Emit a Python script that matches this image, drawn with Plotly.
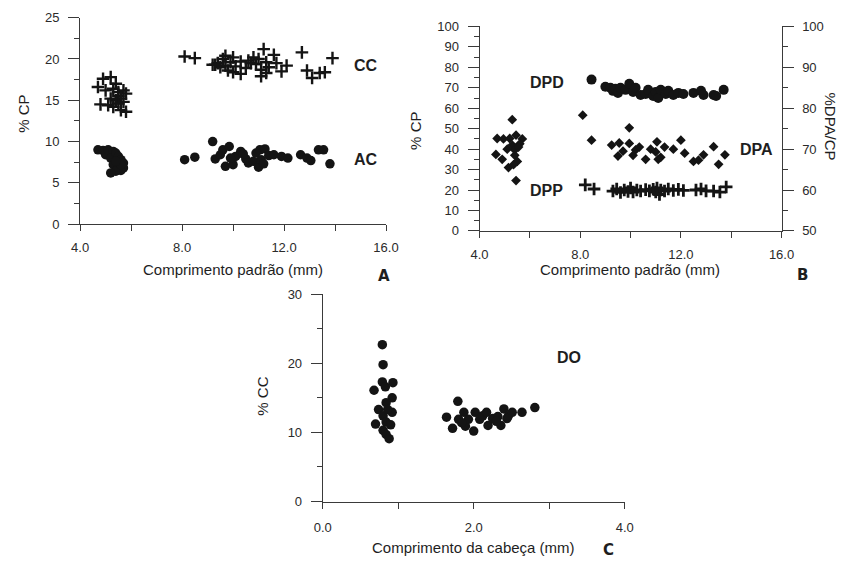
import plotly.graph_objects as go

W, H = 853, 566

# ---------------- Panel A: % CP vs Comprimento padrão ----------------
cc_x = [4.7, 4.9, 5.2, 5.4, 5.0, 5.3, 5.5, 5.7, 5.8, 5.6, 5.4, 4.8, 5.1, 5.3, 5.5, 5.6, 5.8, 5.5, 5.7, 5.2,
        8.1, 8.5, 9.2, 9.4, 9.6, 9.7, 9.9, 9.8, 10.1, 10.3, 10.3, 10.6, 10.8, 10.9, 11.0, 11.1, 11.2, 11.1,
        11.3, 11.4, 11.6, 11.7, 11.9, 12.1, 12.7, 12.9, 13.1, 13.4, 13.6, 13.9,
        9.5, 9.7, 10.0, 10.5, 10.7, 11.3, 9.3, 10.0]
cc_y = [16.6, 17.6, 17.8, 17.0, 16.2, 16.4, 16.0, 16.2, 15.8, 15.2, 15.0, 14.5, 14.4, 14.2, 14.6, 13.8, 13.6, 15.5, 14.8, 15.2,
        20.3, 20.1, 19.3, 19.5, 20.0, 20.4, 19.6, 18.6, 19.1, 18.2, 19.7, 19.8, 20.2, 19.4, 20.0, 18.7, 21.2, 17.9,
        19.6, 19.0, 20.5, 19.5, 18.5, 19.2, 20.8, 18.6, 17.7, 18.3, 18.4, 20.1,
        19.0, 19.2, 20.2, 18.9, 19.5, 18.3, 19.3, 18.4]

ac_x = [4.7, 4.9, 5.0, 5.1, 5.3, 5.2, 5.4, 5.5, 5.6, 5.7, 5.3, 5.5, 5.7, 5.6, 5.4, 5.2, 5.6, 5.4,
        8.1, 8.5, 9.2, 9.3, 9.5, 9.6, 9.85, 9.7, 10.0, 10.1, 10.3, 10.5, 10.6, 10.9, 10.8, 11.05, 11.0, 11.1,
        11.25, 11.4, 11.6, 11.9, 12.15, 12.65, 12.9, 13.05, 13.35, 13.55, 13.8, 9.9, 10.4, 11.2]
ac_y = [9.0, 8.9, 8.4, 9.0, 8.8, 8.0, 8.6, 8.2, 7.8, 7.4, 7.2, 7.0, 6.8, 6.5, 6.4, 6.2, 7.2, 7.6,
        7.8, 8.1, 10.0, 7.9, 8.4, 9.0, 9.4, 7.0, 7.2, 8.2, 8.8, 7.9, 7.4, 8.6, 7.6, 9.0, 6.9, 7.8,
        9.1, 8.3, 8.4, 8.2, 8.0, 8.4, 8.0, 7.7, 9.0, 9.0, 7.3, 8.0, 8.5, 7.3]

# ---------------- Panel B ----------------
dpd_x = [8.45, 9.0, 9.2, 9.3, 9.4, 9.5, 9.6, 9.8, 9.95, 10.1, 10.2, 10.4, 10.6, 10.7, 10.9, 11.0, 11.1,
         11.2, 11.4, 11.5, 11.7, 11.9, 12.1, 12.5, 12.8, 12.9, 13.3, 13.4, 13.7]
dpd_y = [74, 70.5, 70, 68.5, 69.5, 67.5, 70, 69, 72, 68, 70, 66.5, 67, 69, 66, 68, 65,
         69, 67, 68.5, 66.5, 67.5, 67, 67.5, 68.5, 66.5, 66.5, 66, 69]

# DPA plotted against the right axis (%DPA/CP)
dpa_x = [5.3, 4.65, 4.9, 5.15, 5.45, 4.7, 4.95, 5.2, 5.45, 5.7, 5.6, 5.3, 5.4, 5.4, 5.5, 5.35, 5.55, 5.1,
         8.1, 8.45, 9.25, 9.55, 9.5, 9.7, 9.95, 9.95, 10.2, 10.1, 10.35, 10.6, 10.8, 11.0, 11.05, 11.2,
         11.35, 11.1, 12.0, 12.15, 11.7, 12.5, 12.9, 12.7, 13.3, 13.5, 13.75]
dpa_y = [77.2, 68.7, 67.5, 65.5, 62.3, 72.6, 72.5, 72.6, 73.4, 72.5, 71.3, 71.0, 69.8, 68.5, 67.0, 66.2, 70.5, 70.0,
         78.3, 72.2, 71.0, 71.5, 68.3, 69.5, 75.2, 71.4, 69.8, 68.5, 70.5, 67.5, 70.0, 69.3, 71.8, 68.0,
         70.5, 67.5, 72.2, 69.0, 70.0, 67.0, 68.6, 67.3, 70.6, 66.3, 68.6]

dpp_x = [8.2, 8.55, 9.3, 9.45, 9.6, 9.75, 9.9, 10.0, 10.1, 10.25, 10.4, 10.6, 10.75, 10.9, 11.0, 11.05,
         11.15, 11.2, 11.35, 11.5, 11.7, 11.9, 12.1, 12.6, 12.8, 13.0, 13.3, 13.55, 13.8]
dpp_y = [22.5, 20.5, 19.5, 20.5, 18.8, 20.0, 19.3, 21.0, 19.0, 20.0, 19.5, 20.2, 19.6, 20.4, 19.0, 21.0,
         17.8, 20.0, 19.5, 20.5, 19.8, 20.3, 19.8, 20.0, 20.5, 19.6, 19.5, 19.0, 21.5]

# ---------------- Panel C ----------------
do_x = [0.79, 0.8, 0.68, 0.79, 0.83, 0.93, 0.92, 0.84, 0.74, 0.7, 0.8, 0.84, 0.92, 0.9, 0.8, 0.84, 0.88, 0.86,
        1.64, 1.72, 1.79, 1.8, 1.87, 1.89, 1.93, 2.0, 2.02, 2.08, 2.12, 2.17, 2.19, 2.25, 2.32, 2.36, 2.4,
        2.46, 2.51, 2.44, 2.64, 2.81, 1.84, 2.3]
do_y = [22.7, 19.8, 16.1, 17.3, 16.6, 17.2, 15.0, 14.3, 13.3, 11.2, 12.4, 11.5, 12.9, 11.1, 10.3, 9.7, 9.1, 13.3,
        12.2, 10.6, 14.5, 11.9, 12.9, 10.9, 11.9, 10.2, 12.9, 11.9, 12.4, 12.9, 11.0, 12.0, 12.3, 11.0, 13.4,
        12.4, 12.9, 12.0, 12.9, 13.6, 11.4, 11.6]

# tick labels
ab_xticks = [4, 6, 8, 10, 12, 14, 16]
ab_xtext = ["4.0", "", "8.0", "", "12.0", "", "16.0"]
c_xticks = [0, 1, 2, 3, 4]
c_xtext = ["0.0", "", "2.0", "", "4.0"]

INK = "#141414"
AX = "#3a3a3a"
FONT = "Liberation Sans, Arial, sans-serif"


def px(x):
    return x / W


def py(y):
    return 1 - y / H


fig = go.Figure()

circ = dict(symbol="circle", size=9.5, color=INK, line=dict(width=0))
crossm = dict(symbol="cross-thin", size=9, color=INK, line=dict(width=2.4, color=INK))
diam = dict(symbol="diamond", size=7.5, color=INK, line=dict(width=0))

fig.add_trace(go.Scatter(x=cc_x, y=cc_y, mode="markers", marker=crossm, xaxis="x", yaxis="y", name="CC"))
fig.add_trace(go.Scatter(x=ac_x, y=ac_y, mode="markers", marker=circ, xaxis="x", yaxis="y", name="AC"))
fig.add_trace(go.Scatter(x=dpd_x, y=dpd_y, mode="markers", marker=dict(circ, size=10), xaxis="x2", yaxis="y2", name="DPD"))
fig.add_trace(go.Scatter(x=dpp_x, y=dpp_y, mode="markers", marker=dict(crossm, line=dict(width=2.8, color=INK)),
                         xaxis="x2", yaxis="y2", name="DPP"))
fig.add_trace(go.Scatter(x=dpa_x, y=dpa_y, mode="markers", marker=diam, xaxis="x2", yaxis="y3", name="DPA"))
fig.add_trace(go.Scatter(x=do_x, y=do_y, mode="markers", marker=circ, xaxis="x3", yaxis="y4", name="DO"))

tickfont = dict(family=FONT, size=13, color="#2a2a2a")
base = dict(showline=True, linecolor=AX, linewidth=1, showgrid=False, zeroline=False,
            ticks="outside", tickcolor=AX, tickfont=tickfont)

xcommon = dict(base, ticklen=6, tickmode="array", ticklabelstandoff=5)
ycommon = dict(base, ticklen=11, ticklabelstandoff=6)

fig.update_layout(
    width=W, height=H, autosize=False, showlegend=False,
    margin=dict(l=0, r=0, t=0, b=0),
    paper_bgcolor="white", plot_bgcolor="white",
    xaxis=dict(xcommon, domain=[px(73), px(387)], range=[4, 16], tickvals=ab_xticks, ticktext=ab_xtext, anchor="y"),
    yaxis=dict(ycommon, domain=[py(223), py(11)], range=[0, 25], dtick=5, tick0=0, anchor="x",
               minor=dict(dtick=2.5, tick0=0, ticklen=5, ticks="outside", tickcolor=AX)),
    xaxis2=dict(xcommon, domain=[px(483), px(793)], range=[4, 16], tickvals=ab_xticks, ticktext=ab_xtext, anchor="y2"),
    yaxis2=dict(ycommon, domain=[py(230), py(20)], range=[0, 100], dtick=10, tick0=0, anchor="x2",
                minor=dict(dtick=5, tick0=0, ticklen=5, ticks="outside", tickcolor=AX)),
    yaxis3=dict(ycommon, range=[50, 100], dtick=10, tick0=50, overlaying="y2", side="right", anchor="x2",
                minor=dict(dtick=5, tick0=50, ticklen=5, ticks="outside", tickcolor=AX)),
    xaxis3=dict(xcommon, domain=[px(322), px(632)], range=[0, 4], tickvals=c_xticks, ticktext=c_xtext, anchor="y4",
                ticklabelstandoff=8),
    yaxis4=dict(ycommon, domain=[py(508), py(295)], range=[0, 30], dtick=10, tick0=0, anchor="x3",
                minor=dict(dtick=5, tick0=0, ticklen=5, ticks="outside", tickcolor=AX)),
)

title_font = dict(family=FONT, size=15, color="#1e1e1e")
lab_font = dict(family=FONT, size=16, color="#1e1e1e")
panel_font = dict(family="DejaVu Sans, Verdana, sans-serif", size=15, color="#1e1e1e")


def ann(text, x, y, font, angle=0, bold=False):
    fig.add_annotation(text=f"<b>{text}</b>" if bold else text, x=px(x), y=py(y), xref="paper", yref="paper",
                       showarrow=False, textangle=angle, font=font, xanchor="center", yanchor="middle")


# Panel A
ann("% CP", 14, 110, title_font, angle=-90)
ann("Comprimento padrão (mm)", 230, 270, title_font)
ann("A", 385, 276, panel_font, bold=True)
ann("CC", 366, 60, lab_font, bold=True)
ann("AC", 366, 157, lab_font, bold=True)
# Panel B
ann("% CP", 417, 127, title_font, angle=-90)
ann("%DPA/CP", 843, 123, title_font, angle=90)
ann("Comprimento padrão (mm)", 637, 270, title_font)
ann("B", 815, 275, panel_font, bold=True)
ann("DPD", 552, 78, lab_font, bold=True)
ann("DPA", 767, 146, lab_font, bold=True)
ann("DPP", 552, 188, lab_font, bold=True)
# Panel C
ann("% CC", 260, 400, title_font, angle=-90)
ann("Comprimento da cabeça (mm)", 477, 555, title_font)
ann("C", 615, 558, panel_font, bold=True)
ann("DO", 575, 360, lab_font, bold=True)

fig.write_html(
    "out.html",
    config={"displayModeBar": False, "staticPlot": True},
    post_script=(
        "document.documentElement.style.margin='0';document.documentElement.style.overflow='hidden';"
        "document.body.style.margin='0';document.body.style.padding='0';document.body.style.overflow='hidden';"
        "var gd=document.querySelector('.plotly-graph-div');"
        "gd.style.position='fixed';gd.style.left='0px';gd.style.top='0px';"
    ),
)
